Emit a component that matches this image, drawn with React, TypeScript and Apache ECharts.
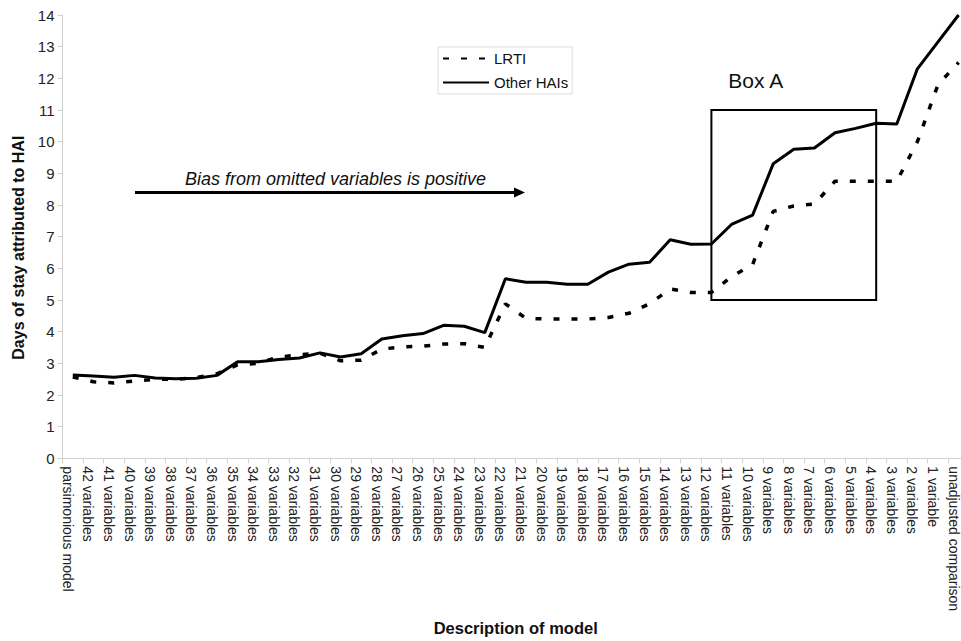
import React, { useEffect, useRef } from "react";
import * as echarts from "echarts";

const categories = [
  "parsimonious model",
  "42 variables", "41 variables", "40 variables", "39 variables", "38 variables",
  "37 variables", "36 variables", "35 variables", "34 variables", "33 variables",
  "32 variables", "31 variables", "30 variables", "29 variables", "28 variables",
  "27 variables", "26 variables", "25 variables", "24 variables", "23 variables",
  "22 variables", "21 variables", "20 variables", "19 variables", "18 variables",
  "17 variables", "16 variables", "15 variables", "14 variables", "13 variables",
  "12 variables", "11 variables", "10 variables", "9 variables", "8 variables",
  "7 variables", "6 variables", "5 variables", "4 variables", "3 variables",
  "2 variables", "1 variable", "unadjusted comparison",
];

const lrti = [
  2.57, 2.42, 2.38, 2.44, 2.5, 2.49, 2.55, 2.67, 2.95, 3.0,
  3.2, 3.27, 3.32, 3.08, 3.1, 3.45, 3.52, 3.54, 3.61, 3.62,
  3.5, 4.88, 4.42, 4.4, 4.4, 4.4, 4.45, 4.58, 4.88, 5.35,
  5.24, 5.24, 5.75, 6.12, 7.8, 7.97, 8.03, 8.75, 8.75, 8.75,
  8.75, 10.0, 11.8, 12.5,
];

const otherHAIs = [
  2.63, 2.6, 2.56, 2.62, 2.54, 2.51, 2.53, 2.62, 3.05, 3.05,
  3.12, 3.17, 3.33, 3.2, 3.3, 3.77, 3.87, 3.94, 4.2, 4.17,
  3.97, 5.67, 5.56, 5.56, 5.5, 5.5, 5.88, 6.13, 6.19, 6.9,
  6.76, 6.77, 7.4, 7.68, 9.3, 9.76, 9.8, 10.28, 10.42, 10.58,
  10.56, 12.3, 13.15, 14.0,
];

const yTicks = { min: 0, max: 14, interval: 1 };
const boxA = { fromCat: "12 variables", toCat: "4 variables", yLow: 5, yHigh: 11, label: "Box A" };
const seriesNames = ["LRTI", "Other HAIs"];

const FONT = '"Liberation Sans", Arial, sans-serif';

export default function App() {
  const ref = useRef<HTMLDivElement>(null);

  useEffect(() => {
    document.body.style.margin = "0";
    document.body.style.overflow = "hidden";
    if (!ref.current) return;
    const chart = echarts.init(ref.current, undefined, { renderer: "svg" });
    chart.setOption({
      animation: false,
      backgroundColor: "#ffffff",
      textStyle: { fontFamily: FONT },
      grid: { left: 62.5, top: 15, width: 906.4, height: 446, containLabel: false },
      legend: {
        orient: "vertical",
        left: 438,
        top: 47,
        padding: [4, 4, 4, 4],
        itemGap: 9,
        itemWidth: 46,
        itemHeight: 14,
        borderColor: "#dddddd",
        borderWidth: 1,
        itemStyle: { color: "rgba(0,0,0,0)", borderWidth: 0, opacity: 0 },
        textStyle: { fontSize: 15, color: "#111", fontFamily: FONT },
        data: seriesNames,
      },
      xAxis: {
        type: "category",
        data: categories,
        boundaryGap: true,
        axisLine: { lineStyle: { color: "#d0d0d0", width: 1 } },
        axisTick: { show: true, length: 5, lineStyle: { color: "#d0d0d0" } },
        axisLabel: {
          rotate: -90,
          interval: 0,
          fontSize: 14,
          color: "#222",
          margin: 8,
          fontFamily: FONT,
          verticalAlign: "top",
          lineHeight: 10,
        },
        splitLine: { show: false },
        name: "Description of model",
        nameLocation: "middle",
        nameGap: 150,
        nameTextStyle: { fontWeight: "bold", fontSize: 16.5, color: "#111", fontFamily: FONT },
      },
      yAxis: {
        type: "value",
        min: yTicks.min,
        max: yTicks.max,
        interval: yTicks.interval,
        splitLine: { show: false },
        axisLine: { show: true, lineStyle: { color: "#d0d0d0", width: 1 } },
        axisTick: { show: true, length: 5, lineStyle: { color: "#d0d0d0" } },
        axisLabel: { fontSize: 15, color: "#222", margin: 8, fontFamily: FONT },
        name: "Days of stay attributed to HAI",
        nameLocation: "middle",
        nameGap: 35,
        nameTextStyle: { fontWeight: "bold", fontSize: 16, color: "#111", fontFamily: FONT, padding: [0, 22, 0, 0] },
      },
      series: [
        {
          name: seriesNames[0],
          type: "line",
          data: lrti,
          symbol: "none",
          showSymbol: false,
          itemStyle: { color: "#000" },
          lineStyle: { color: "#000", width: 3.5, type: [6, 12] },
          z: 3,
        },
        {
          name: seriesNames[1],
          type: "line",
          data: otherHAIs,
          symbol: "none",
          showSymbol: false,
          itemStyle: { color: "#000" },
          lineStyle: { color: "#000", width: 3 },
          z: 4,
          markArea: {
            silent: true,
            itemStyle: { color: "rgba(0,0,0,0)", borderColor: "#000", borderWidth: 2 },
            label: {
              show: true,
              position: "top",
              offset: [-38, -13],
              fontSize: 21,
              color: "#111",
              fontFamily: FONT,
            },
            data: [
              [
                { name: boxA.label, xAxis: boxA.fromCat, yAxis: boxA.yLow },
                { xAxis: boxA.toCat, yAxis: boxA.yHigh },
              ],
            ],
          },
        },
      ],
      graphic: [
        {
          type: "text",
          x: 185,
          y: 179,
          style: {
            text: "Bias from omitted variables is positive",
            font: 'italic 18px "Liberation Sans", Arial, sans-serif',
            fill: "#111",
            textVerticalAlign: "middle",
          },
        },
        {
          type: "line",
          shape: { x1: 135, y1: 192.5, x2: 516, y2: 192.5 },
          style: { stroke: "#000", lineWidth: 3 },
        },
        {
          type: "polygon",
          shape: { points: [[514, 187.5], [525, 192.5], [514, 197.5]] },
          style: { fill: "#000" },
        },
      ],
    });
    return () => chart.dispose();
  }, []);

  return <div ref={ref} style={{ width: 972, height: 641 }} />;
}
